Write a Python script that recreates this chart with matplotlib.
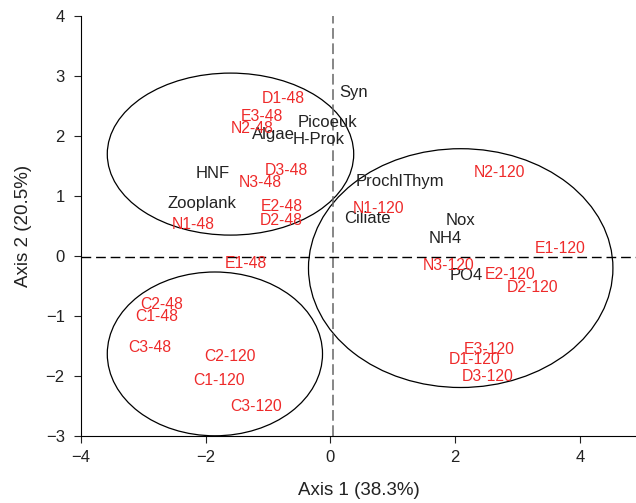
import matplotlib
matplotlib.use("Agg")
import matplotlib.pyplot as plt
from matplotlib.patches import Ellipse

plt.rcParams['font.family'] = ['Liberation Sans', 'DejaVu Sans']

# Variable (black) labels
var_names = ["Syn", "Picoeuk", "H-Prok", "Algae", "HNF", "Zooplank",
             "Prochl", "Thym", "Ciliate", "Nox", "NH4", "PO4"]
var_x = [0.37, -0.05, -0.18, -0.91, -1.89, -2.05, 0.79, 1.50, 0.60, 2.09, 1.85, 2.18]
var_y = [2.73, 2.23, 1.95, 2.02, 1.37, 0.87, 1.25, 1.25, 0.63, 0.60, 0.30, -0.33]

# Sample (red) labels
smp_names = ["D1-48", "E3-48", "N2-48", "D3-48", "N3-48", "E2-48", "D2-48", "N1-48",
             "N1-120", "N2-120", "E1-120", "N3-120", "E2-120", "D2-120",
             "E3-120", "D1-120", "D3-120",
             "E1-48", "C2-48", "C1-48", "C3-48", "C2-120", "C1-120", "C3-120"]
smp_x = [-0.75, -1.10, -1.26, -0.70, -1.13, -0.78, -0.79, -2.20,
         0.77, 2.71, 3.69, 1.89, 2.89, 3.24,
         2.54, 2.31, 2.52,
         -1.36, -2.71, -2.79, -2.89, -1.60, -1.78, -1.19]
smp_y = [2.63, 2.32, 2.13, 1.42, 1.23, 0.83, 0.60, 0.53,
         0.80, 1.40, 0.13, -0.15, -0.30, -0.53,
         -1.55, -1.72, -2.00,
         -0.13, -0.80, -1.00, -1.53, -1.67, -2.07, -2.50]

# Group ellipses: center x, center y, width, height
ell_cx = [-1.60, 2.09, -1.85]
ell_cy = [1.70, -0.20, -1.63]
ell_w = [3.95, 4.88, 3.45]
ell_h = [2.70, 3.98, 2.73]

fig = plt.figure(figsize=(6.36, 5.03), dpi=100)
ax = fig.add_axes([0.127, 0.133, 0.873, 0.835])
ax.set_xlim(-4, 4.9)
ax.set_ylim(-3, 4)

for cx, cy, w, h in zip(ell_cx, ell_cy, ell_w, ell_h):
    ax.add_patch(Ellipse((cx, cy), w, h, fill=False, edgecolor='black', lw=0.9))

ax.axvline(0.05, color='#666666', lw=1.1, ls=(0, (7, 3)))
ax.axhline(-0.02, color='black', lw=1.0, ls=(0, (7, 3.5)))

for n, x, y in zip(var_names, var_x, var_y):
    ax.text(x, y, n, color='#222222', fontsize=12, ha='center', va='center')
for n, x, y in zip(smp_names, smp_x, smp_y):
    ax.text(x, y, n, color='#ee2a2a', fontsize=11.3, ha='center', va='center')

ax.spines['top'].set_visible(False)
ax.spines['right'].set_visible(False)
ax.set_xticks([-4, -2, 0, 2, 4])
ax.set_yticks([-3, -2, -1, 0, 1, 2, 3, 4])
ax.set_xticklabels(['\u22124', '\u22122', '0', '2', '4'])
ax.set_yticklabels(['\u22123', '\u22122', '\u22121', '0', '1', '2', '3', '4'])
ax.tick_params(direction='out', length=5, labelsize=12, colors='#222222')
ax.tick_params(axis='x', pad=5)
ax.tick_params(axis='y', pad=6.5)
ax.set_xlabel('Axis 1 (38.3%)', fontsize=13.5, color='#222222', labelpad=12)
ax.set_ylabel('Axis 2 (20.5%)', fontsize=13.5, color='#222222', labelpad=10)

fig.savefig('out.png', dpi=100)
